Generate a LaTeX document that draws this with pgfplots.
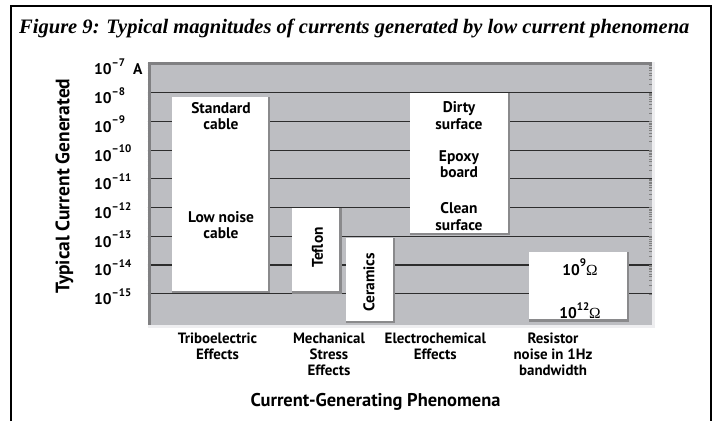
\documentclass[border=0pt]{standalone}
\usepackage{pgfplots}
\pgfplotsset{compat=1.18}
\usepackage{fontspec}
\setmainfont{PT Sans}
\newfontfamily\titlefont{Liberation Serif}
\newfontfamily\symfont{Liberation Serif}
\definecolor{plotgray}{RGB}{189,190,194}
\definecolor{darkbevel}{RGB}{128,128,130}
\definecolor{lightbevel}{RGB}{238,238,240}
\definecolor{boxshadow}{RGB}{138,138,140}
\definecolor{gridc}{RGB}{45,45,45}
\newcommand{\supx}[1]{\raisebox{0.55em}{\fontsize{11}{11}\selectfont #1}}

\begin{document}
\begin{tikzpicture}[x=1bp,y=1bp]
\path[use as bounding box] (0,0) rectangle (719,-421);
\draw[line width=1.3bp] (11,-421) -- (11,-6) -- (711,-6) -- (711,-421);
\node[anchor=base west, inner sep=0, font=\titlefont\bfseries\itshape\fontsize{20.6}{24}\selectfont] at (19,-33) {Figure 9: Typical magnitudes of currents generated by low current phenomena};
\begin{axis}[
  at={(147.5bp,-325bp)}, anchor=south west,
  scale only axis, width=504bp, height=263bp,
  xmin=0, xmax=504,
  ymode=log, ymin=8.1e-17, ymax=1.17e-7,
  clip=false,
  axis line style={draw=none},
  axis background/.style={fill=plotgray},
  major tick length=0pt,
  ytick={1e-15,1e-14,1e-13,1e-12,1e-11,1e-10,1e-9,1e-8,1e-7},
  yticklabels={10\supx{–15},10\supx{–14},10\supx{–13},10\supx{–12},10\supx{–11},10\supx{–10},10\supx{–9},10\supx{–8},{10\supx{–7}\hspace{8bp}A}},
  yticklabel style={anchor=base west, inner sep=0pt, xshift=-53.5bp, yshift=-11bp, font=\bfseries\fontsize{15.5}{17}\selectfont},
  ymajorgrids,
  major grid style={line width=1.2bp, color=gridc},
  xtick={70,181.5,287.8,405.5},
  xticklabels={Triboelectric\\Effects, Mechanical\\Stress\\Effects, Electrochemical\\Effects, Resistor\\noise in 1Hz\\bandwidth},
  xticklabel style={align=center, anchor=north, inner sep=0pt, yshift=-8bp, font=\bfseries\fontsize{15}{16}\selectfont},
]
% plot-area bevel
\fill[lightbevel] (axis cs:504,6.4e-17) rectangle (axis cs:507,1.17e-7);
\fill[lightbevel] (axis cs:0,6.4e-17) rectangle (axis cs:507,8.1e-17);
\fill[darkbevel] (axis cs:0,9.2e-8) rectangle (axis cs:504,1.17e-7);
\fill[darkbevel] (axis cs:0,8.1e-17) rectangle (axis cs:3,1.17e-7);
% Triboelectric
\addplot[fill=boxshadow, draw=none] coordinates {(24.5,1.05e-15) (122.5,1.05e-15) (122.5,7.3e-9) (24.5,7.3e-9)} --cycle;
\addplot[fill=white, draw=none] coordinates {(24.5,1.28e-15) (120,1.28e-15) (120,7.3e-9) (24.5,7.3e-9)} --cycle;
% Teflon
\addplot[fill=boxshadow, draw=none] coordinates {(144.2,1.0e-15) (194.2,1.0e-15) (194.2,9.5e-13) (144.2,9.5e-13)} --cycle;
\addplot[fill=white, draw=none] coordinates {(144.2,1.22e-15) (191.7,1.22e-15) (191.7,9.5e-13) (144.2,9.5e-13)} --cycle;
% Ceramics
\addplot[fill=boxshadow, draw=none] coordinates {(198.2,9.3e-17) (247.5,9.3e-17) (247.5,8.9e-14) (198.2,8.9e-14)} --cycle;
\addplot[fill=white, draw=none] coordinates {(198.2,1.14e-16) (245,1.14e-16) (245,8.9e-14) (198.2,8.9e-14)} --cycle;
% Electrochemical
\addplot[fill=boxshadow, draw=none] coordinates {(262.5,1.1e-13) (362.5,1.1e-13) (362.5,9.5e-9) (262.5,9.5e-9)} --cycle;
\addplot[fill=white, draw=none] coordinates {(262.5,1.34e-13) (360,1.34e-13) (360,9.5e-9) (262.5,9.5e-9)} --cycle;
% Resistor noise
\addplot[fill=boxshadow, draw=none] coordinates {(381.8,1.05e-16) (481.8,1.05e-16) (481.8,2.9e-14) (381.8,2.9e-14)} --cycle;
\addplot[fill=white, draw=none] coordinates {(381.8,1.28e-16) (479.3,1.28e-16) (479.3,2.9e-14) (381.8,2.9e-14)} --cycle;
\end{axis}
\begin{scope}[every node/.style={align=center, inner sep=0pt, font=\bfseries\fontsize{15.5}{16.5}\selectfont}]
\node at (221,-116) {Standard\\cable};
\node at (221,-225) {Low noise\\cable};
\node[rotate=90] at (317.5,-247.5) {Teflon};
\node[rotate=90] at (369,-282.5) {Ceramics};
\node at (459,-115.5) {Dirty\\surface};
\node at (459,-164) {Epoxy\\board};
\node at (459,-216.5) {Clean\\surface};
\node at (580,-267) {10\supx{9}{\symfont\mdseries Ω}};
\node at (580,-310.7) {10\supx{12}{\symfont\mdseries Ω}};
\end{scope}
\node[rotate=90, font=\bfseries\fontsize{19.5}{21}\selectfont] at (64.5,-186) {Typical Current Generated};
\node[font=\bfseries\fontsize{18.5}{20}\selectfont] at (375.5,-402) {Current-Generating Phenomena};
\end{tikzpicture}
\end{document}
